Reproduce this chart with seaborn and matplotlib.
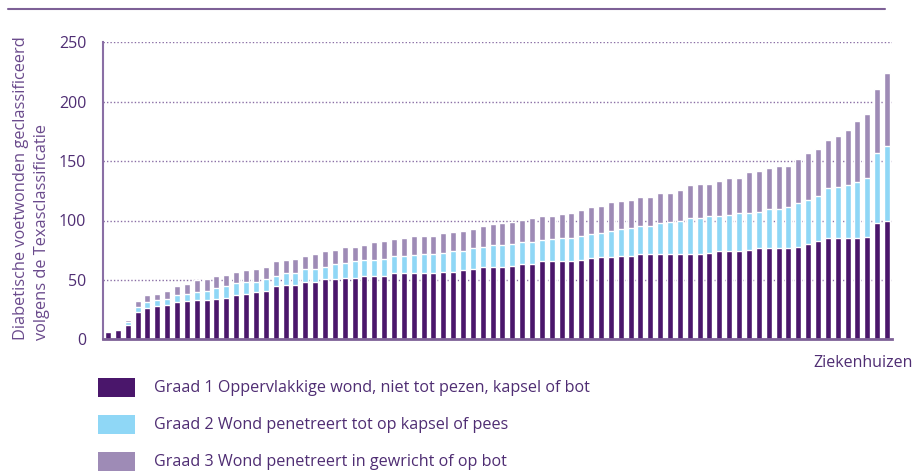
import numpy as np
import pandas as pd
import matplotlib
matplotlib.use('Agg')
import matplotlib.pyplot as plt
import seaborn as sns
from matplotlib.patches import Rectangle
from matplotlib.lines import Line2D

# Aantal voetwonden per ziekenhuis, per graad (Texasclassificatie)
graad1 = [6, 8, 12, 23, 26.5, 28, 29, 31.5, 32.5, 33, 33, 34, 35, 37, 38.5, 39.5, 41, 44.5, 46, 46,
          48.5, 48.5, 50.5, 50.5, 52, 52, 53, 53, 53.5, 55.5, 55.5, 56, 56, 56, 57, 57, 58, 59.5, 60.5, 60.5,
          61, 62, 63, 63.5, 65.5, 65.5, 65.5, 65.5, 67, 68.5, 69.5, 69.5, 70.5, 70.5, 71.5, 71.5, 71.5, 71.5, 72, 72,
          72, 73, 74, 74.5, 74.5, 75.5, 76.5, 76.5, 76.5, 76.5, 78, 80, 82.5, 85, 85, 85.5, 85.5, 86.5, 97.5, 100]
graad2 = [0, 0, 2.5, 4.5, 5, 5.5, 5, 6, 6, 7, 8, 9.5, 9.5, 10, 10, 9, 10, 9, 10, 10,
          11, 11, 10.5, 12.5, 12.5, 13.5, 13.5, 14, 14.5, 15, 15, 15, 16, 16, 16, 17.5, 16.5, 17, 17.5, 18.5,
          18.5, 18.5, 18.5, 18.5, 18.5, 19, 20, 20, 20, 20.5, 20, 22, 22.5, 23, 23.5, 23.5, 26, 27.5, 28, 30.5,
          30.5, 30.5, 30, 30.5, 31.5, 31, 31, 33, 33.5, 34.5, 37, 37, 38.5, 42, 43.5, 44, 46.5, 49, 59, 62.5]
graad3 = [0, 0, 2, 5, 5.5, 5, 7, 7.5, 8, 9.5, 9.5, 9.5, 10, 10, 10, 11, 10, 12, 11, 12,
          11, 12, 13, 12.5, 13.5, 12.5, 13, 14.5, 15, 14, 15, 16, 15, 15, 16.5, 16, 17, 16.5, 17.5, 18,
          18.5, 18.5, 19, 20, 20, 19.5, 20, 21, 22, 22.5, 23, 24, 23.5, 24, 24.5, 24.5, 25.5, 24.5, 25.5, 27,
          28, 27.5, 29.5, 30.5, 30, 34, 34, 34.5, 35.5, 34.5, 36.5, 39.5, 39.5, 40.5, 42.5, 46.5, 51.5, 54.5, 54.5, 61.5]

labels = ['Graad 1 Oppervlakkige wond, niet tot pezen, kapsel of bot',
          'Graad 2 Wond penetreert tot op kapsel of pees',
          'Graad 3 Wond penetreert in gewricht of op bot']
kleuren = ['#4a166b', '#8fd7f6', '#9e8bb6']
yticks = [0, 50, 100, 150, 200, 250]

PAARS = '#4f2d73'
LIJN = '#7d6096'

df = pd.DataFrame({'ziekenhuis': np.arange(len(graad1)),
                   'g1': graad1, 'g2': graad2, 'g3': graad3})
df['top2'] = df['g1'] + df['g2']
df['top3'] = df['top2'] + df['g3']

sns.set_style('white')
plt.rcParams['font.family'] = ['Open Sans', 'DejaVu Sans']

fig = plt.figure(figsize=(9.17, 4.75), dpi=100)
W, H = 917, 475
ax = fig.add_axes([103 / W, 1 - 339.3 / H, (892 - 103) / W, (339.3 - 42.3) / H])

# gestapelde staven: totaal eerst, daarna de lagere lagen erover
for kolom, kleur in zip(['top3', 'top2', 'g1'], kleuren[::-1]):
    sns.barplot(data=df, x='ziekenhuis', y=kolom, color=kleur, width=0.61,
                saturation=1, ax=ax, zorder=3)

ax.set_xlim(-0.51, len(graad1) - 0.49)
ax.set_ylim(0, 250)
ax.set_yticks(yticks)
ax.set_yticklabels([str(t) for t in yticks], color=PAARS, fontsize=11.5)
ax.set_xticks([])
ax.set_xlabel('')
ax.set_ylabel('')
ax.tick_params(axis='y', length=0, pad=12)

for t in yticks[1:]:
    ax.axhline(t, color='#8a6fa5', lw=1, ls=(0, (1, 1.5)), zorder=1)

for s in ['top', 'right']:
    ax.spines[s].set_visible(False)
ax.spines['left'].set_color('#8a6fa5')
ax.spines['left'].set_linewidth(1.5)
ax.spines['bottom'].set_color(LIJN)
ax.spines['bottom'].set_linewidth(2)
ax.spines['bottom'].set_zorder(5)

fig.text(13 / W, 1 - 188 / H, 'Diabetische voetwonden geclassificeerd\nvolgens de Texasclassificatie',
         rotation=90, ha='left', va='center', color='#6a4a8c', fontsize=11.8, linespacing=1.4)
fig.text(913 / W, 1 - 363 / H, 'Ziekenhuizen', ha='right', va='center', color=PAARS, fontsize=11.5)

# lijn bovenaan
fig.add_artist(Line2D([8 / W, 885 / W], [1 - 9 / H, 1 - 9 / H], color=LIJN, lw=1.5))

# legenda
for i, (kleur, tekst) in enumerate(zip(kleuren, labels)):
    y0 = 378 + i * 37
    fig.add_artist(Rectangle((98 / W, 1 - (y0 + 19) / H), 37 / W, 19 / H,
                             facecolor=kleur, edgecolor='none', transform=fig.transFigure))
    fig.text(154 / W, 1 - (y0 + 10) / H, tekst, ha='left', va='center',
             color=PAARS, fontsize=11.6)

fig.savefig('out.png', dpi=100)
